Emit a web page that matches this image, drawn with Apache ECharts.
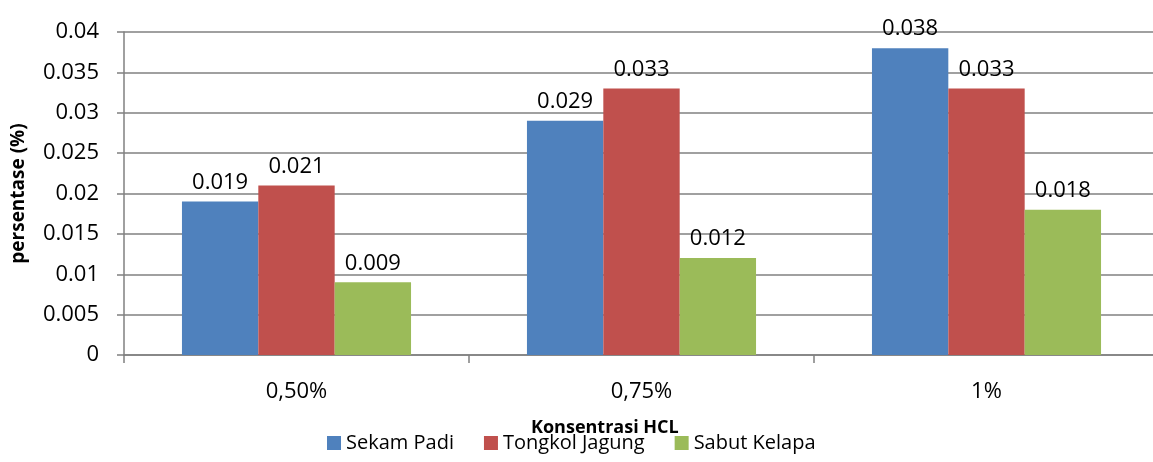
<!DOCTYPE html>
<html><head><meta charset="utf-8">
<script src="https://cdn.jsdelivr.net/npm/echarts@6/dist/echarts.min.js"></script>
<style>html,body{margin:0;padding:0;background:#fff}#c{width:1153px;height:462px}</style>
</head><body><div id="c"></div>
<script>
const categories = ['0,50%', '0,75%', '1%'];
const sekamPadi = [0.019, 0.029, 0.038];
const tongkolJagung = [0.021, 0.033, 0.033];
const sabutKelapa = [0.009, 0.012, 0.018];
const seriesNames = ['Sekam Padi', 'Tongkol Jagung', 'Sabut Kelapa'];
const colors = ['#4F81BD', '#C0504D', '#9BBB59'];
const FONT = 'Open Sans';
const lbl = {show: true, position: 'top', distance: 8, color: '#000', fontFamily: FONT, fontSize: 22, formatter: p => String(p.value)};
const chart = echarts.init(document.getElementById('c'));
chart.setOption({
  animation: false,
  color: colors,
  textStyle: {fontFamily: FONT},
  title: {text: 'Konsentrasi HCL', left: 526, top: 414, textStyle: {fontFamily: FONT, fontSize: 18, fontWeight: 'bold', color: '#000'}},
  legend: {bottom: 4, left: 322, itemWidth: 14, itemHeight: 14, itemGap: 30, icon: 'rect',
    textStyle: {fontFamily: FONT, fontSize: 20, color: '#000'}, data: seriesNames},
  grid: {left: 124, top: 32, width: 1035, bottom: 107, containLabel: false, outerBoundsMode: 'none'},
  xAxis: {type: 'category', data: categories,
    axisLine: {lineStyle: {color: '#808080', width: 1.5}},
    axisTick: {show: true, length: 8, lineStyle: {color: '#808080', width: 1.5}},
    axisLabel: {color: '#000', fontFamily: FONT, fontSize: 22, margin: 26}},
  yAxis: {type: 'value', min: 0, max: 0.04, interval: 0.005,
    name: 'persentase (%)', nameLocation: 'middle', nameRotate: 90, nameGap: 96,
    nameTextStyle: {fontFamily: FONT, fontSize: 19, fontWeight: 'bold', color: '#000'},
    axisLine: {show: true, lineStyle: {color: '#808080', width: 1.5}},
    axisTick: {show: true, length: 7, lineStyle: {color: '#808080', width: 1.5}},
    splitLine: {lineStyle: {color: '#808080', width: 1.5}},
    axisLabel: {color: '#000', fontFamily: FONT, fontSize: 22, margin: 25, formatter: v => String(parseFloat(v.toFixed(3)))}},
  series: [
    {name: seriesNames[0], type: 'bar', data: sekamPadi, barGap: '0%', barCategoryGap: '33.6%', label: lbl},
    {name: seriesNames[1], type: 'bar', data: tongkolJagung, label: lbl},
    {name: seriesNames[2], type: 'bar', data: sabutKelapa, label: lbl}
  ]
});
</script></body></html>
